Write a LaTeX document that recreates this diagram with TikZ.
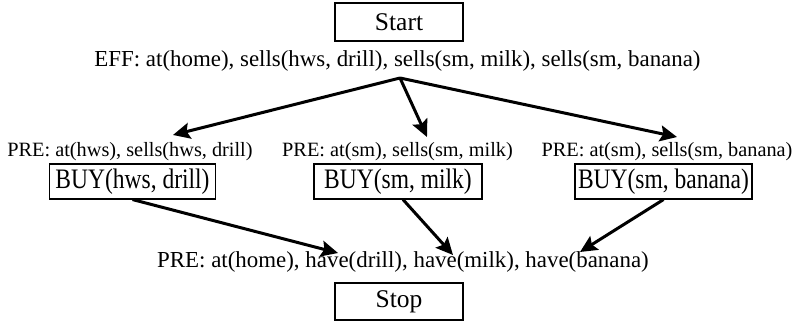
\documentclass[tikz,border=0pt]{standalone}
\usepackage{fontspec}
\usepackage{graphicx}
\setmainfont{Liberation Serif}
\usetikzlibrary{arrows.meta}
\begin{document}
\begin{tikzpicture}[x=1pt,y=-1pt,
  big/.style={font=\fontsize{22.9}{26}\selectfont, inner sep=0pt, anchor=base},
  pre/.style={font=\fontsize{20.3}{24}\selectfont, inner sep=0pt, anchor=base},
  box/.style={draw, line width=1.1pt, font=\fontsize{25.5}{28}\selectfont, inner sep=0pt},
  buy/.style={draw, line width=1.1pt, font=\fontsize{23.5}{26}\selectfont, inner sep=0pt, minimum height=35pt},
  arr/.style={line width=3pt, -{Stealth[length=17pt,width=16pt,inset=3pt]}}]
\useasboundingbox (0,0) rectangle (796,321);
\node[box, minimum width=128pt, minimum height=38pt] (start) at (399,22) {Start};
\node[big] (eff) at (397.5,67) {EFF: at(home), sells(hws, drill), sells(sm, milk), sells(sm, banana)};
\node[pre] (preA) at (130,156) {PRE: at(hws), sells(hws, drill)};
\node[pre] (preB) at (397.5,156) {PRE: at(sm), sells(sm, milk)};
\node[pre] (preC) at (667,156) {PRE: at(sm), sells(sm, banana)};
\node[buy, minimum width=166pt] (buyA) at (132.5,181.5) {\scalebox{1}[1.2]{BUY(hws, drill)}};
\node[buy, minimum width=168pt] (buyB) at (398,181.5) {\scalebox{1}[1.2]{BUY(sm, milk)}};
\node[buy, minimum width=177pt] (buyC) at (663.5,181.5) {\scalebox{1}[1.2]{BUY(sm, banana)}};
\node[big] (preD) at (403,267) {PRE: at(home), have(drill), have(milk), have(banana)};
\node[box, minimum width=128pt, minimum height=37pt] (stop) at (399,301.5) {Stop};
\coordinate (apex) at (400,78);
\coordinate (tA) at (173,135);
\coordinate (tB) at (427,137);
\coordinate (tC) at (677,137);
\coordinate (bA) at (338,253);
\coordinate (bB) at (453,255);
\coordinate (bC) at (580,252);
\draw[arr] (apex) -- (tA);
\draw[arr] (apex) -- (tB);
\draw[arr] (apex) -- (tC);
\draw[arr] (buyA.south) -- (bA);
\draw[arr] ([xshift=5pt]buyB.south) -- (bB);
\draw[arr] (buyC.south) -- (bC);
\end{tikzpicture}
\end{document}
